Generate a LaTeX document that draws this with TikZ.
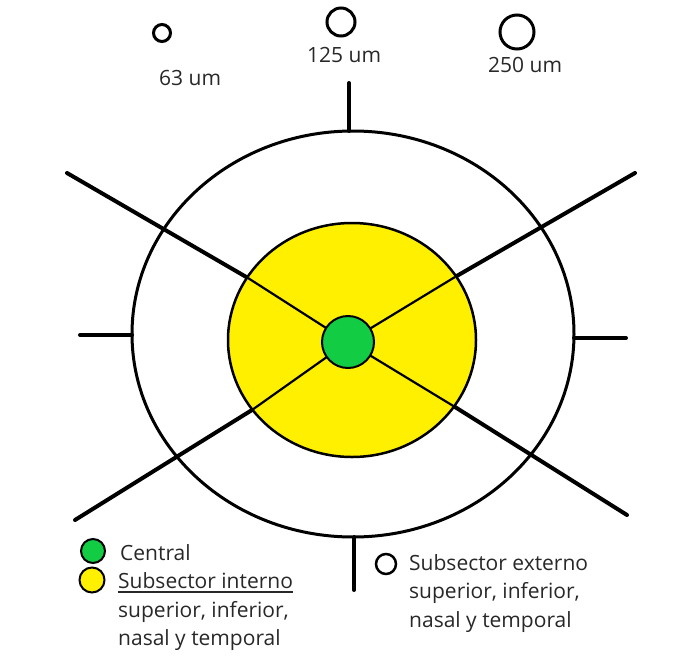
\documentclass[tikz,border=0pt]{standalone}
\usepackage{fontspec}
\setmainfont{Open Sans}
\usepackage{xcolor}
\usepackage{tikz}
\definecolor{zoneyellow}{RGB}{255, 240, 0}
\definecolor{zonegreen}{RGB}{18, 204, 68}
\definecolor{textgray}{RGB}{40, 40, 40}

\begin{document}
\begin{tikzpicture}[x=1pt, y=-1pt,
    every node/.style={inner sep=0pt, anchor=base west, text=textgray, font=\fontsize{21}{24}\selectfont},
    thickline/.style={line width=4pt, line cap=round},
    thinline/.style={line width=2.2pt}]
    \useasboundingbox (0,0) rectangle (675,662);
    % Sizes
    \draw[line width=3pt] (162,33) circle (8.5pt);
    \draw[line width=3pt] (341,22) circle (14pt);
    \draw[line width=3pt] (517,32) circle (17pt);
    \node (s63) at (159,85) {63 um};
    \node (s125) at (307,62) {125 um};
    \node (s250) at (488,72) {250 um};
    % End points
    \coordinate (top) at (349,83);
    \coordinate (topin) at (349,131);
    \coordinate (bot) at (354,590);
    \coordinate (botin) at (354,537);
    \coordinate (lft) at (80,335);
    \coordinate (lftin) at (132,335);
    \coordinate (rgt) at (626,338);
    \coordinate (rgtin) at (574,338);
    \coordinate (ul) at (67,173);
    \coordinate (ulin) at (248,278);
    \coordinate (ur) at (635,173);
    \coordinate (urin) at (455,277);
    \coordinate (ll) at (75,520);
    \coordinate (llin) at (252,410);
    \coordinate (lr) at (627,515);
    \coordinate (lrin) at (455,407);
    \coordinate (mid) at (348,342);
    % Outer ring
    \draw[line width=3pt, fill=white] (353,334) ellipse [x radius=221pt, y radius=203pt];
    \draw[thickline] (top) -- (topin);
    \draw[thickline] (bot) -- (botin);
    \draw[thickline] (lft) -- (lftin);
    \draw[thickline] (rgt) -- (rgtin);
    \draw[thickline] (ul) -- (ulin);
    \draw[thickline] (ur) -- (urin);
    \draw[thickline] (ll) -- (llin);
    \draw[thickline] (lr) -- (lrin);
    % Inner ring
    \draw[line width=2.5pt, fill=zoneyellow] (352,340) ellipse [x radius=124pt, y radius=117pt];
    \draw[thinline] (ulin) -- (mid);
    \draw[thinline] (urin) -- (mid);
    \draw[thinline] (llin) -- (mid);
    \draw[thinline] (lrin) -- (mid);
    % Center
    \draw[line width=2pt, fill=zonegreen] (mid) circle (26pt);
    % Legend
    \draw[line width=2pt, fill=zonegreen] (93,551) circle (12pt);
    \draw[line width=2pt, fill=zoneyellow] (92,580) circle (12.5pt);
    \draw[line width=2.5pt, fill=white] (386,564) circle (10pt);
    \node (lcen) at (120,560) {Central};
    \node (lint) at (118,588) {Subsector interno};
    \draw[line width=1.2pt, textgray] ([yshift=-4pt]lint.base west) -- ([yshift=-4pt]lint.base east);
    \node (lint2) at (118,617) {superior, inferior,};
    \node (lint3) at (118,645) {nasal y temporal};
    \node (lext) at (409,570) {Subsector externo};
    \node (lext2) at (409,598) {superior, inferior,};
    \node (lext3) at (409,627) {nasal y temporal};
\end{tikzpicture}
\end{document}
